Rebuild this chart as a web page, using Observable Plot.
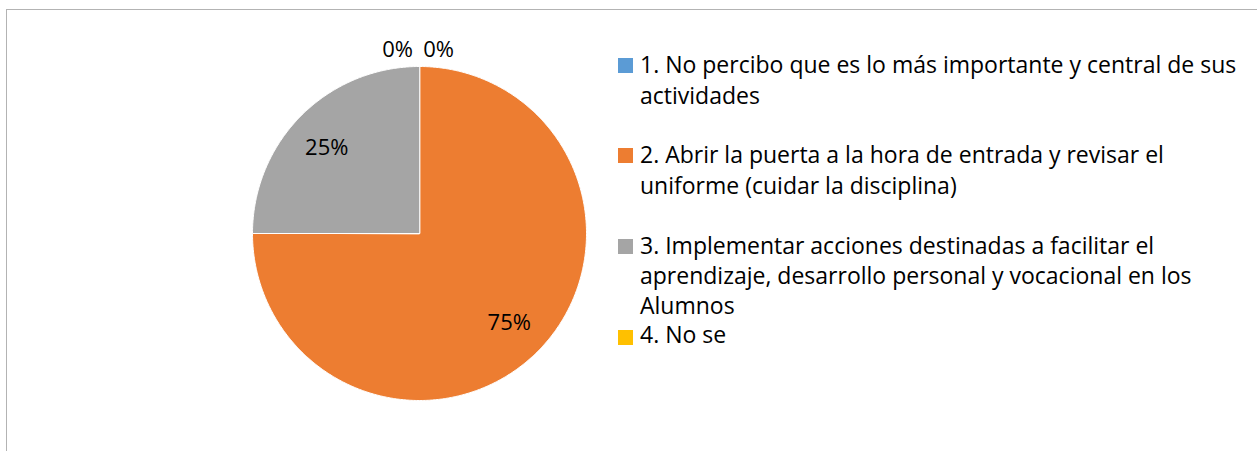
<!DOCTYPE html>
<html>
<head>
<meta charset="utf-8">
<script src="https://cdn.jsdelivr.net/npm/d3@7"></script>
<script src="https://cdn.jsdelivr.net/npm/@observablehq/plot@0.6"></script>
<style>
  html, body { margin: 0; padding: 0; background: #fff; }
  #wrap { position: relative; width: 1257px; height: 451px; overflow: hidden; font-family: "Open Sans", sans-serif; }
  #frame { position: absolute; left: 6px; top: 9px; width: 1400px; height: 600px; border: 1px solid #b3b3b3; box-sizing: border-box; }
  #chart { position: absolute; left: 0; top: 0; }
  #legend { position: absolute; left: 0; top: 0; width: 1257px; height: 451px; }
  .item { position: absolute; left: 618px; width: 638px; font-size: 23px; line-height: 31px; color: #000; }
  .sw { position: absolute; left: 0; width: 15px; height: 15px; }
  .tx { margin-left: 22px; white-space: nowrap; }
</style>
</head>
<body>
<div id="wrap">
  <div id="frame"></div>
  <div id="chart"></div>
  <div id="legend"></div>
</div>
<script>
// Legend text, split where the reference wraps each entry
const categoryLines = [
  ["1. No percibo que es lo más importante y central de sus", "actividades"],
  ["2. Abrir la puerta a la hora de entrada y revisar el", "uniforme (cuidar la disciplina)"],
  ["3. Implementar acciones destinadas a facilitar el", "aprendizaje, desarrollo personal y vocacional en los", "Alumnos"],
  ["4. No se"]
];
const values = [0, 75, 25, 0];
const colors = ["#5B9BD5", "#ED7D31", "#A5A5A5", "#FFC000"];
const percentLabels = ["0%", "75%", "25%", "0%"];

const data = categoryLines.map((lines, i) => ({category: lines.join(" "), lines, value: values[i], color: colors[i], label: percentLabels[i]}));
const arcs = d3.pie().sort(null).value(d => d.value).startAngle(0).endAngle(2 * Math.PI)(data);

function pt(a, r) { return {x: r * Math.sin(a), y: r * Math.cos(a)}; }

const sliceMarks = arcs.filter(a => a.data.value > 0).map(a => {
  const n = Math.max(2, Math.ceil((a.endAngle - a.startAngle) / (Math.PI / 360)));
  const pts = [{x: 0, y: 0}];
  for (let k = 0; k <= n; k++) pts.push(pt(a.startAngle + (a.endAngle - a.startAngle) * k / n, 1));
  return Plot.line(pts, {x: "x", y: "y", curve: "linear-closed", fill: a.data.color, stroke: "#fff", strokeWidth: 1});
});

const labelData = arcs.map(a => {
  if (a.data.value > 0) {
    const p = pt((a.startAngle + a.endAngle) / 2, 0.76);
    return {x: p.x, y: p.y, label: a.data.label, dx: a.startAngle > Math.PI ? -3 : 0, dy: a.startAngle > Math.PI ? 4 : 0};
  }
  const p = pt(a.startAngle, 1.1);
  return {x: p.x, y: p.y, label: a.data.label, dx: a.startAngle < Math.PI ? -22 : 19, dy: 0};
});

const chart = Plot.plot({
  width: 1257,
  height: 451,
  margin: 0,
  x: {domain: [-1, 1], range: [252, 586], axis: null},
  y: {domain: [-1, 1], range: [400, 66], axis: null},
  style: {background: "transparent", fontFamily: "'Open Sans', sans-serif"},
  marks: [
    ...sliceMarks,
    ...labelData.map(d => Plot.text([d], {x: "x", y: "y", text: "label", dx: d.dx, dy: d.dy, fontSize: 22, fill: "#000"}))
  ]
});
document.getElementById("chart").appendChild(chart);

const tops = [49, 139, 230, 322];
const lineHeights = [31, 31, 30, 24];
const swTop = [9, 9, 9, 8];
const legend = document.getElementById("legend");
data.forEach((d, i) => {
  const item = document.createElement("div");
  item.className = "item";
  item.style.top = tops[i] + "px";
  item.style.lineHeight = lineHeights[i] + "px";
  item.title = d.category;
  const sw = document.createElement("div");
  sw.className = "sw";
  sw.style.background = d.color;
  sw.style.top = swTop[i] + "px";
  item.appendChild(sw);
  d.lines.forEach(line => {
    const tx = document.createElement("div");
    tx.className = "tx";
    tx.textContent = line;
    item.appendChild(tx);
  });
  legend.appendChild(item);
});
</script>
</body>
</html>
